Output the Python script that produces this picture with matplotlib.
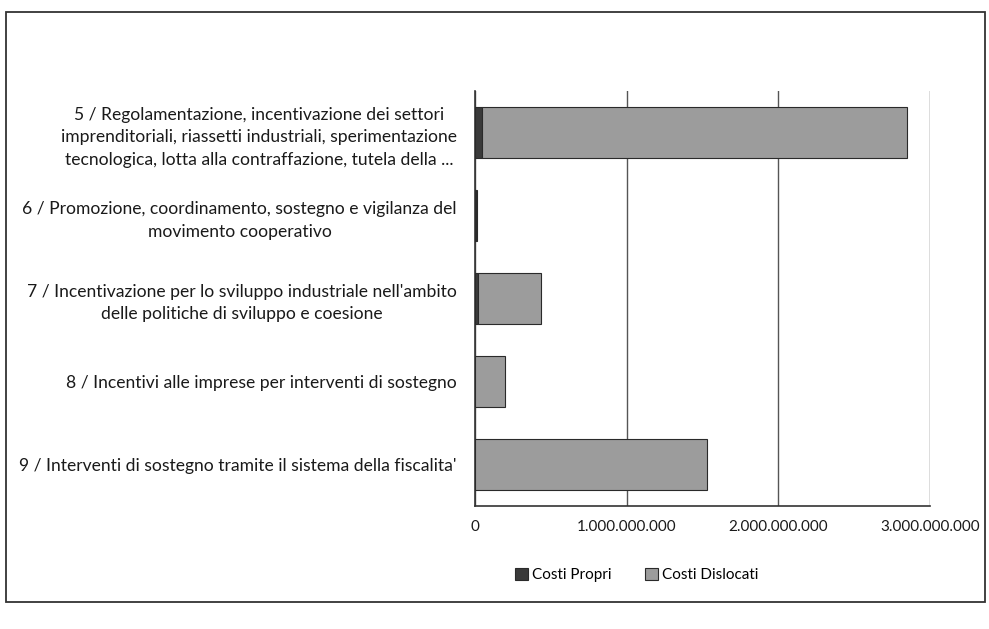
import matplotlib.pyplot as plt
from matplotlib.patches import Rectangle
import numpy as np

# Dati
categorie = [
    "5 / Regolamentazione, incentivazione dei settori\nimprenditoriali, riassetti industriali, sperimentazione\ntecnologica, lotta alla contraffazione, tutela della ...",
    "6 / Promozione, coordinamento, sostegno e vigilanza del\nmovimento cooperativo",
    "7 / Incentivazione per lo sviluppo industriale nell'ambito\ndelle politiche di sviluppo e coesione",
    "8 / Incentivi alle imprese per interventi di sostegno",
    "9 / Interventi di sostegno tramite il sistema della fiscalita'",
]
costi_propri = [45e6, 8e6, 22e6, 3e6, 3e6]
costi_dislocati = [2805e6, 2e6, 413e6, 197e6, 1527e6]
tick_vals = [0, 1e9, 2e9, 3e9]
tick_labels = ["0", "1.000.000.000", "2.000.000.000", "3.000.000.000"]

plt.rcParams['font.family'] = ['Lato', 'DejaVu Sans']

W, H = 989, 629
fig = plt.figure(figsize=(W / 100, H / 100), dpi=100)
ax = fig.add_axes([475 / W, 1 - 506 / H, (930 - 475) / W, (506 - 91) / H])

y = np.arange(len(categorie))
ax.barh(y, costi_propri, height=0.61, color='#3a3a3a', edgecolor='#2a2a2a', linewidth=0.8, label='Costi Propri', zorder=3)
ax.barh(y, costi_dislocati, left=costi_propri, height=0.61, color='#9c9c9c', edgecolor='#2a2a2a', linewidth=0.8, label='Costi Dislocati', zorder=3)

ax.set_ylim(len(categorie) - 0.5, -0.5)
ax.set_xlim(0, 3e9)
ax.set_yticks(y)
ax.set_yticklabels(categorie, fontsize=12.6, multialignment='center', color='#1a1a1a', linespacing=1.5)
ax.set_xticks(tick_vals)
ax.set_xticklabels(tick_labels, fontsize=11, color='#1a1a1a')
ax.tick_params(axis='y', length=0, pad=13)
ax.tick_params(axis='x', length=0, pad=10)
ax.xaxis.grid(True, color='#555555', linewidth=1, zorder=0)
for s in ['top', 'right']:
    ax.spines[s].set_visible(False)
ax.spines['left'].set_color('#333333')
ax.spines['bottom'].set_color('#333333')
ax.spines['left'].set_linewidth(1.2)
ax.spines['bottom'].set_linewidth(1.2)

leg = fig.legend(loc='center', bbox_to_anchor=(637 / W, 1 - 575 / H), ncol=2, frameon=False,
                 fontsize=11, handlelength=0.8, handleheight=0.8, columnspacing=2.2, handletextpad=0.3)

# cornice esterna
fig.patches.append(Rectangle((6 / W, 1 - 602 / H), (985 - 6) / W, (602 - 12) / H,
                             transform=fig.transFigure, fill=False, edgecolor='#333333', linewidth=1.3))

fig.savefig('out.png', dpi=100)
